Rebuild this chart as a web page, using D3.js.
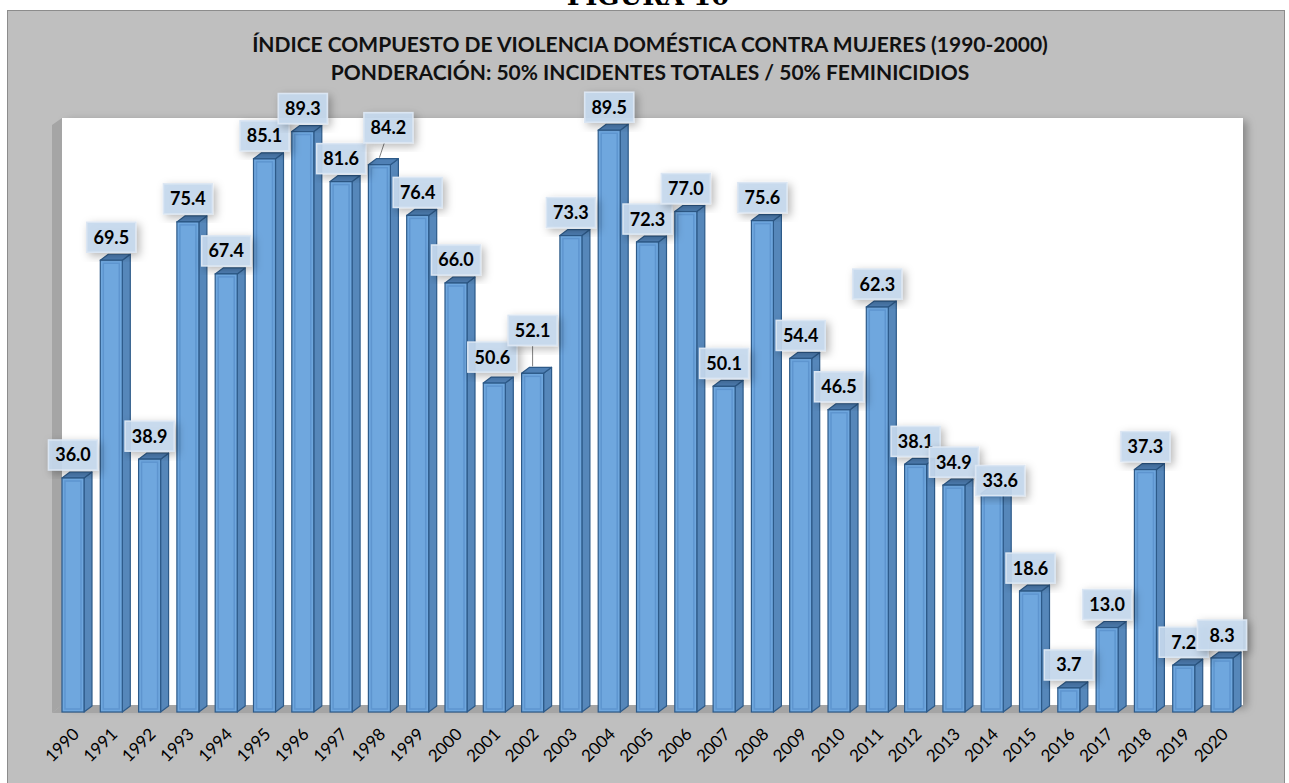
<!DOCTYPE html>
<html>
<head>
<meta charset="utf-8">
<script src="https://cdn.jsdelivr.net/npm/d3@7"></script>
<style>
  body { margin: 0; background: #fff; }
  svg { display: block; }
</style>
</head>
<body>
<div id="chart"></div>
<script>
// data
var years = ["1990","1991","1992","1993","1994","1995","1996","1997","1998","1999",
             "2000","2001","2002","2003","2004","2005","2006","2007","2008","2009",
             "2010","2011","2012","2013","2014","2015","2016","2017","2018","2019","2020"];
var indexValues = [36.0, 69.5, 38.9, 75.4, 67.4, 85.1, 89.3, 81.6, 84.2, 76.4,
                   66.0, 50.6, 52.1, 73.3, 89.5, 72.3, 77.0, 50.1, 75.6, 54.4,
                   46.5, 62.3, 38.1, 34.9, 33.6, 18.6, 3.7, 13.0, 37.3, 7.2, 8.3];
var titleLines = ["ÍNDICE COMPUESTO DE VIOLENCIA DOMÉSTICA CONTRA MUJERES (1990-2000)",
                  "PONDERACIÓN: 50% INCIDENTES TOTALES / 50% FEMINICIDIOS"];

var W = 1289, H = 783;
var floorY = 712;        // front bottom of the bars
var depthX = 8, depthY = 6;  // 3d offset
var plot = {left: 62, right: 1243, top: 118, bottom: 705};

// label nudges (a few labels were dragged in the original)
var labelNudge = {"1998": [9, -14], "2002": [0, -20], "2014": [8, 10], "2001": [-2, -3]};

var svg = d3.select("#chart").append("svg")
  .attr("width", W).attr("height", H);

var defs = svg.append("defs");
var sh = defs.append("filter").attr("id", "shadow")
  .attr("x", "-30%").attr("y", "-30%").attr("width", "160%").attr("height", "160%");
sh.append("feDropShadow").attr("dx", 3).attr("dy", 3).attr("stdDeviation", 4)
  .attr("flood-color", "#000").attr("flood-opacity", 0.3);
var sh2 = defs.append("filter").attr("id", "plotshadow")
  .attr("x", "-5%").attr("y", "-5%").attr("width", "110%").attr("height", "110%");
sh2.append("feDropShadow").attr("dx", 4).attr("dy", 3).attr("stdDeviation", 4)
  .attr("flood-color", "#000").attr("flood-opacity", 0.3);

// figure caption, cut off at the top like in the source
svg.append("text")
  .attr("x", 648).attr("y", 5)
  .attr("text-anchor", "middle")
  .style("font-family", "'DejaVu Serif', 'Liberation Serif', serif")
  .style("font-weight", "bold")
  .style("font-size", "26px")
  .text("FIGURA 10");

// outer chart area
svg.append("rect")
  .attr("x", 7.5).attr("y", 10.5)
  .attr("width", 1277).attr("height", 790)
  .attr("fill", "#bfbfbf")
  .attr("stroke", "#8c8c8c");

// titles
svg.selectAll(".title").data(titleLines).enter()
  .append("text")
  .attr("class", "title")
  .attr("x", 650)
  .attr("y", (d, i) => 52 + i * 28)
  .attr("text-anchor", "middle")
  .style("font-family", "Lato, 'Open Sans', sans-serif")
  .style("font-weight", "bold")
  .style("font-size", "21px")
  .attr("fill", "#111")
  .text(d => d);

// back wall, side wall and floor
svg.append("rect")
  .attr("x", plot.left).attr("y", plot.top)
  .attr("width", plot.right - plot.left).attr("height", plot.bottom - plot.top)
  .attr("fill", "#fff")
  .attr("filter", "url(#plotshadow)");

svg.append("polygon")
  .attr("points", [[plot.left - 10, plot.top + 7], [plot.left, plot.top],
                   [plot.left, plot.bottom], [plot.left - 10, floorY + 1]].join(" "))
  .attr("fill", "#a5a5a5");

svg.append("polygon")
  .attr("points", [[plot.left - 10, floorY + 1], [plot.left, plot.bottom],
                   [plot.right, plot.bottom], [plot.right - 10, floorY + 1]].join(" "))
  .attr("fill", "#a5a5a5");

// scales
var x = d3.scaleBand()
  .domain(years)
  .range([50.5, 1244.5])
  .paddingInner(0.4256)
  .paddingOuter(0.3);

var y = d3.scaleLinear()
  .domain([0, 100])
  .range([floorY, 62]);

var data = years.map((yr, i) => ({year: yr, value: indexValues[i]}));

// bars, drawn as little boxes
var bars = svg.append("g").selectAll("g.bar")
  .data(data).enter()
  .append("g").attr("class", "bar");

var bw = x.bandwidth();

bars.append("polygon")  // side
  .attr("points", d => {
    var x0 = x(d.year), yt = y(d.value);
    return [[x0 + bw, yt], [x0 + bw + depthX, yt - depthY],
            [x0 + bw + depthX, floorY - depthY], [x0 + bw, floorY]].join(" ");
  })
  .attr("fill", "#5687ba")
  .attr("stroke", "#2d5a89").attr("stroke-width", 1.2)
  .attr("stroke-linejoin", "round");

bars.append("polygon")  // top
  .attr("points", d => {
    var x0 = x(d.year), yt = y(d.value);
    return [[x0, yt], [x0 + depthX, yt - depthY],
            [x0 + bw + depthX, yt - depthY], [x0 + bw, yt]].join(" ");
  })
  .attr("fill", "#4f80b5")
  .attr("stroke", "#2d5a89").attr("stroke-width", 1.2)
  .attr("stroke-linejoin", "round");

bars.append("rect")  // front
  .attr("x", d => x(d.year))
  .attr("y", d => y(d.value))
  .attr("width", bw)
  .attr("height", d => floorY - y(d.value))
  .attr("fill", "#6fa7de")
  .attr("stroke", "#2d5a89").attr("stroke-width", 1.2);

bars.append("rect")  // bevel highlight
  .attr("x", d => x(d.year) + 3)
  .attr("y", d => y(d.value) + 3)
  .attr("width", bw - 6)
  .attr("height", d => Math.max(0, floorY - y(d.value) - 6))
  .attr("fill", "none")
  .attr("stroke", "#5e95cf").attr("stroke-width", 1.5);

// data labels
var boxW = 49, boxH = 30;
var labels = svg.append("g").selectAll("g.lbl")
  .data(data).enter()
  .append("g").attr("class", "lbl")
  .attr("transform", d => {
    var n = labelNudge[d.year] || [0, 0];
    var cx = x(d.year) + bw / 2 + n[0];
    var cy = y(d.value) - depthY - 2 - boxH / 2 + n[1];
    return `translate(${cx},${cy})`;
  });

// leader lines for the moved labels
labels.filter(d => d.year === "1998" || d.year === "2002")
  .append("line")
  .attr("x1", d => d.year === "1998" ? -4 : 0)
  .attr("y1", boxH / 2)
  .attr("x2", d => d.year === "1998" ? -9 : 0)
  .attr("y2", d => {
    var n = labelNudge[d.year];
    return boxH / 2 - n[1] + 1;
  })
  .attr("stroke", "#7f7f7f").attr("stroke-width", 1);

labels.append("rect")
  .attr("x", -boxW / 2).attr("y", -boxH / 2)
  .attr("width", boxW).attr("height", boxH)
  .attr("fill", "#c6d9ee")
  .attr("fill-opacity", 0.92)
  .attr("stroke", "#dbe6f3").attr("stroke-width", 1.5)
  .attr("filter", "url(#shadow)");

labels.append("text")
  .attr("text-anchor", "middle")
  .attr("dy", "0.36em")
  .style("font-family", "Lato, 'Open Sans', sans-serif")
  .style("font-weight", "bold")
  .style("font-size", "18px")
  .attr("fill", "#000")
  .text(d => d.value.toFixed(1));

// category axis, labels at 45 degrees
var xAxis = svg.append("g")
  .attr("transform", "translate(3, 731)")
  .call(d3.axisBottom(x).tickSize(0).tickPadding(0));

xAxis.select(".domain").remove();
xAxis.selectAll("text")
  .attr("y", 0).attr("x", 0)
  .attr("dy", "0.35em")
  .attr("text-anchor", "end")
  .attr("transform", "rotate(-45)")
  .style("font-family", "Lato, 'Open Sans', sans-serif")
  .style("font-size", "17px")
  .attr("fill", "#000");
</script>
</body>
</html>
